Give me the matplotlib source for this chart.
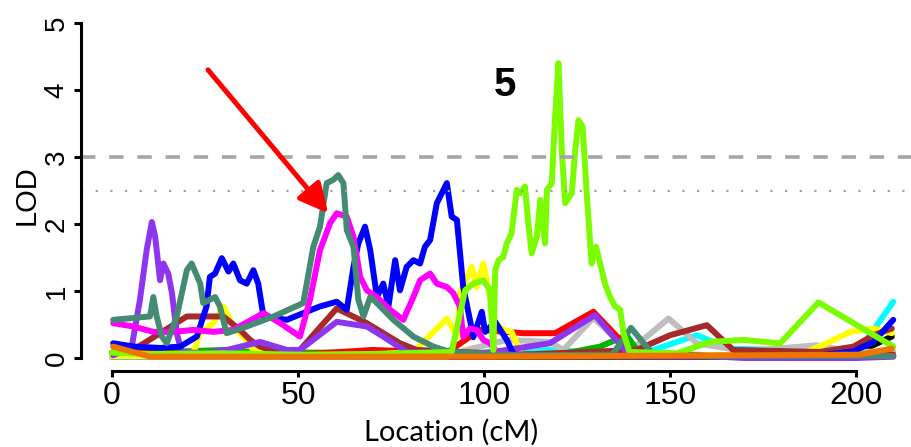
import matplotlib
matplotlib.use("Agg")
import matplotlib.pyplot as plt

# LOD profiles along the chromosome (cM, LOD)
pink_x = [0, 60, 130, 210]
pink_y = [0.01, 0.01, 0.01, 0.01]
black_x = [0, 100, 190, 203.8, 209.6]
black_y = [0.02, 0.02, 0.02, 0.17, 0.32]
cyan_x = [0, 100, 117.7, 125, 139, 145.5, 157.2, 166.1, 179.6, 201, 210]
cyan_y = [0.02, 0.03, 0.12, 0.1, 0.05, 0.12, 0.34, 0.14, 0.12, 0.12, 0.84]
grey_x = [0, 90, 95.3, 106.1, 117.7, 121.3, 129.4, 139, 149.6, 157.2, 170, 189.4, 199.2, 210]
grey_y = [0.02, 0.02, 0.12, 0.27, 0.24, 0.12, 0.6, 0.1, 0.59, 0.22, 0.1, 0.19, 0.09, 0.1]
green_x = [0, 20, 30, 40, 60, 120, 131.2, 138.3, 142, 210]
green_y = [0.08, 0.1, 0.12, 0.08, 0.08, 0.05, 0.17, 0.34, 0.05, 0.03]
red_x = [0, 50, 70, 90, 98.9, 110.6, 119.1, 129.4, 136.6, 139.2, 170, 210]
red_y = [0.08, 0.05, 0.12, 0.08, 0.42, 0.37, 0.37, 0.69, 0.27, 0.07, 0.03, 0.05]
yellow_x = [0, 15, 21.9, 23.7, 27.2, 29.9, 32.6, 35.3, 38, 50, 70, 81, 90, 92.7, 93.5, 96.7,
            98, 99.8, 101.6, 103, 105.2, 107.4, 110, 150, 185, 192.1, 198.4, 204.7, 209.6]
yellow_y = [0.03, 0.03, 0.09, 0.37, 0.52, 0.77, 0.47, 0.32, 0.12, 0.04, 0.05, 0.09, 0.59, 0.32,
            0.97, 1.36, 1.06, 1.41, 0.91, 0.52, 0.42, 0.39, 0.05, 0.04, 0.05, 0.22, 0.39, 0.44, 0.37]
brown_x = [0.3, 5.7, 12.9, 20.1, 29.9, 34.4, 37.1, 39.8, 45, 50.5, 60.4, 68.5, 77.4, 81.9,
           110, 141, 150, 159.9, 167, 190.3, 199.3, 204.7, 209.6]
brown_y = [0.08, 0.12, 0.37, 0.62, 0.62, 0.42, 0.27, 0.17, 0.08, 0.12, 0.74, 0.52, 0.22, 0.12,
           0.05, 0.12, 0.34, 0.49, 0.12, 0.09, 0.17, 0.34, 0.44]
purple_x = [0.3, 5.3, 7.5, 9.3, 10.7, 11.6, 12.5, 12.9, 13.8, 15.1, 16.1, 17.4, 18.7, 25,
            30.8, 39.8, 47, 50.5, 60.4, 68.5, 72.9, 79.2, 95, 102.5, 117.7, 129.8, 138.3,
            170, 200, 210]
purple_y = [0.04, 0.17, 0.87, 1.61, 2.03, 1.81, 1.36, 1.16, 1.41, 1.26, 0.97, 0.37, 0.09, 0.07,
            0.12, 0.24, 0.12, 0.12, 0.54, 0.47, 0.32, 0.09, 0.06, 0.09, 0.22, 0.64, 0.09,
            0.0, 0.0, 0.02]
blue_x = [0.3, 5.9, 12.9, 18.3, 22.8, 25.4, 26.3, 27.7, 29.5, 31.3, 32.6, 34.4, 36.2, 38, 39.3,
          40.7, 47, 51.4, 55.9, 60.4, 63.1, 64.9, 66.2, 68, 69.4, 71.2, 72.9, 74.3, 76.1, 77.4,
          79.2, 81, 82.8, 84.1, 85.5, 87.3, 90, 91.3, 92.7, 94.4, 96.2, 97.1, 99.4, 100.3, 103,
          106.1, 108, 130, 160, 190, 199.3, 204.7, 210]
blue_y = [0.22, 0.17, 0.15, 0.17, 0.32, 0.77, 1.21, 1.26, 1.49, 1.29, 1.41, 1.16, 1.11, 1.31, 1.11,
          0.62, 0.57, 0.67, 0.77, 0.84, 0.72, 1.36, 1.71, 1.96, 1.61, 0.91, 1.11, 0.77, 1.46, 1.01,
          1.36, 1.46, 1.41, 1.66, 1.76, 2.31, 2.61, 2.11, 2.06, 1.06, 0.57, 0.31, 0.69, 0.39, 0.54,
          0.27, 0.05, 0.03, 0.03, 0.04, 0.1, 0.24, 0.57]
magenta_x = [0.3, 5.7, 11.1, 16.5, 21.9, 27.2, 32.6, 40.7, 45.2, 50.5, 53.2, 55.9, 58.6, 60.4,
             63.1, 64.9, 66.7, 68.5, 71.2, 74.7, 78.3, 81, 82.8, 85.5, 87.3, 90, 91.7, 93.5,
             94.4, 96.2, 98, 99.8, 101.6, 104, 150, 210]
magenta_y = [0.52, 0.47, 0.39, 0.39, 0.42, 0.39, 0.42, 0.67, 0.52, 0.32, 0.87, 1.61, 2.01, 2.16,
             2.11, 1.81, 1.21, 1.01, 0.91, 0.72, 0.57, 0.91, 1.16, 1.26, 1.11, 1.06, 0.97, 0.77,
             0.32, 0.44, 0.42, 0.27, 0.22, 0.05, 0.03, 0.03]
teal_x = [0.3, 10.2, 11.1, 12, 13.4, 14.7, 17.4, 20.1, 21.4, 23.7, 24.5, 26.3, 27.7, 29, 30.8,
          36.2, 43.4, 51.4, 54.1, 55.9, 57.7, 59.5, 60.8, 62.2, 63.1, 64.9, 66.2, 67.6, 69.4,
          71.2, 75.6, 81, 86.4, 90.9, 110, 134.5, 139.5, 145, 160, 210]
teal_y = [0.57, 0.62, 0.91, 0.62, 0.32, 0.22, 0.62, 1.31, 1.41, 1.11, 0.82, 0.87, 0.91, 0.77, 0.37,
          0.47, 0.62, 0.82, 1.66, 1.96, 2.61, 2.66, 2.73, 2.61, 1.91, 1.66, 0.87, 0.62, 0.91,
          0.82, 0.57, 0.32, 0.17, 0.09, 0.04, 0.05, 0.45, 0.08, 0.03, 0.03]
lawn_x = [0, 10, 30, 50, 70, 91.3, 94.9, 97.1, 99.8, 101.6, 102.5, 103, 103.9, 105.2, 106.1,
          107.4, 108.8, 109.7, 111, 111.9, 112.8, 114.2, 115.1, 116.4, 116.9, 118.2, 119.1, 120,
          120.9, 121.8, 123.6, 124.5, 125.4, 126.5, 127.6, 128.9, 130.1, 131.2, 132.5, 133.9,
          135.2, 136.6, 137.5, 139.1, 151.8, 160.8, 169.7, 179.6, 189.9, 210]
lawn_y = [0.08, 0.06, 0.07, 0.05, 0.06, 0.09, 1.01, 1.11, 1.16, 1.01, 0.12, 1.31, 1.46, 1.51, 1.71,
          1.86, 2.51, 2.46, 2.56, 2.01, 1.56, 1.81, 2.36, 1.71, 2.51, 2.61, 3.6, 4.40,
          3.10, 2.31, 2.46, 3.1, 3.55, 3.45, 2.46, 1.41, 1.66, 1.41, 1.11, 0.91,
          0.77, 0.72, 0.37, 0.09, 0.07, 0.24, 0.27, 0.22, 0.83, 0.17]
orange_x = [0.3, 10.2, 100, 201, 209.6]
orange_y = [0.17, 0.02, 0.02, 0.05, 0.14]

series = [
    (pink_x, pink_y, "#FFC0CB"), (black_x, black_y, "#000000"), (cyan_x, cyan_y, "#00FFFF"),
    (grey_x, grey_y, "#BEBEBE"), (green_x, green_y, "#00B400"), (red_x, red_y, "#FF0000"),
    (yellow_x, yellow_y, "#FFFF00"), (brown_x, brown_y, "#A52A2A"), (purple_x, purple_y, "#8E35EF"),
    (blue_x, blue_y, "#0000FF"), (magenta_x, magenta_y, "#FF00FF"), (teal_x, teal_y, "#458B74"),
    (lawn_x, lawn_y, "#7CFC00"), (orange_x, orange_y, "#EE7600"),
]

fig = plt.figure(figsize=(9.11, 4.47), dpi=100)
ax = fig.add_axes([80.8 / 911, (447 - 371.4) / 447, 843.7 / 911, 361.8 / 447])
ax.set_xlim(-8.4, 218.4)
ax.set_ylim(-0.2, 5.2)

for x, y, c in series:
    ax.plot(x, y, color=c, lw=4.3, solid_joinstyle="round", solid_capstyle="round")

ax.axhline(3, color="#A6A6A6", lw=2.6, dashes=(4, 3.8), dash_capstyle="butt")
ax.axhline(2.5, color="#A0A0A0", lw=1.6, dashes=(1, 5.6), dash_capstyle="butt")

ax.annotate("", xy=(58.1, 2.16), xytext=(25.8, 4.30),
            arrowprops=dict(arrowstyle="-|>,head_length=1.1,head_width=0.55", color="#FF0000",
                            lw=3.6, mutation_scale=16, shrinkA=0, shrinkB=0))
ax.text(105.6, 4.07, "5", ha="center", va="center", fontsize=29, fontweight="bold",
        family="Liberation Sans")

for s in ["top", "right"]:
    ax.spines[s].set_visible(False)
ax.spines["left"].set_bounds(0, 5)
ax.spines["bottom"].set_bounds(0, 200)
ax.spines["left"].set_linewidth(2.2)
ax.spines["bottom"].set_linewidth(2.2)
ax.set_yticks([0, 1, 2, 3, 4, 5])
ax.set_xticks([0, 50, 100, 150, 200])
ax.tick_params(axis="y", length=5, width=2.2, pad=3, labelsize=20, labelrotation=90)
ax.tick_params(axis="x", length=4, width=2.2, pad=3, labelsize=23)
for lab in ax.get_yticklabels():
    lab.set_family("Liberation Sans")
    lab.set_va("center")
for lab in ax.get_xticklabels():
    lab.set_family(["Liberation Sans Narrow", "Liberation Sans"])

fig.text(27 / 911, 1 - 195 / 447, "LOD", rotation=90, ha="center", va="center",
         fontsize=21, family="Liberation Sans")
fig.text(451 / 911, 1 - 432 / 447, "Location (cM)", ha="center", va="center",
         fontsize=21, family="Lato")

fig.savefig("out.png", dpi=100)
